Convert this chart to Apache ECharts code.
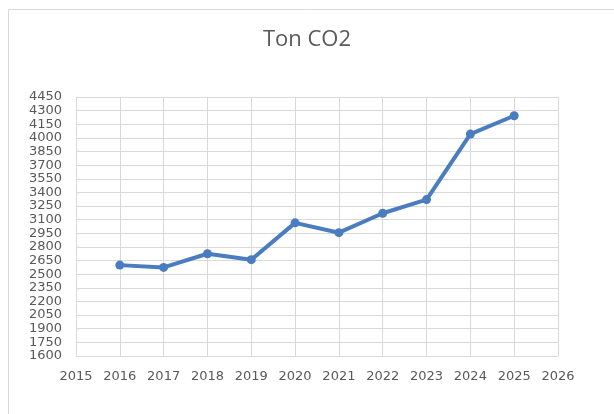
<!DOCTYPE html>
<html>
<head>
<meta charset="utf-8">
<script src="https://cdn.jsdelivr.net/npm/echarts@6/dist/echarts.min.js"></script>
<style>html,body{margin:0;padding:0;background:#fff;}#c{width:614px;height:414px;}</style>
</head>
<body>
<div id="c"></div>
<script>
const title = 'Ton CO2';
const years = [2016, 2017, 2018, 2019, 2020, 2021, 2022, 2023, 2024, 2025];
const values = [2600, 2575, 2725, 2660, 3065, 2957, 3171, 3321, 4042, 4244];
const yMin = 1600, yMax = 4450, yStep = 150;
const xMin = 2015, xMax = 2026;

const chart = echarts.init(document.getElementById('c'), null, {renderer: 'canvas'});
const font = 'Open Sans';
const labelFont = 'DejaVu Sans';
chart.setOption({
  animation: false,
  backgroundColor: '#fff',
  graphic: [{
    type: 'rect', left: 6, top: 7, shape: {width: 700, height: 500},
    style: {fill: 'none', stroke: '#d9d9d9', lineWidth: 1}, silent: true
  }],
  title: {
    text: title, left: 'center', top: 24,
    textStyle: {fontFamily: font, fontSize: 22, fontWeight: 'normal', color: '#595959'}
  },
  grid: {left: 76, right: 56, top: 97, bottom: 58},
  xAxis: {
    type: 'value', min: xMin, max: xMax, interval: 1,
    axisLine: {show: false}, axisTick: {show: false},
    splitLine: {show: true, lineStyle: {color: '#d9d9d9', width: 1}},
    axisLabel: {margin: 14, color: '#595959', fontFamily: labelFont, fontSize: 13,
      showMinLabel: true, showMaxLabel: true, formatter: v => String(v)}
  },
  yAxis: {
    type: 'value', min: yMin, max: yMax, interval: yStep,
    axisLine: {show: false}, axisTick: {show: false},
    splitLine: {show: true, lineStyle: {color: '#d9d9d9', width: 1}},
    axisLabel: {margin: 14, color: '#595959', fontFamily: labelFont, fontSize: 13,
      showMinLabel: true, showMaxLabel: true, formatter: v => String(v)}
  },
  series: [{
    type: 'line',
    data: years.map((y, i) => [y, values[i]]),
    lineStyle: {color: '#4a7dbf', width: 4},
    itemStyle: {color: '#4a7dbf'},
    symbol: 'circle', symbolSize: 9
  }]
});
</script>
</body>
</html>
